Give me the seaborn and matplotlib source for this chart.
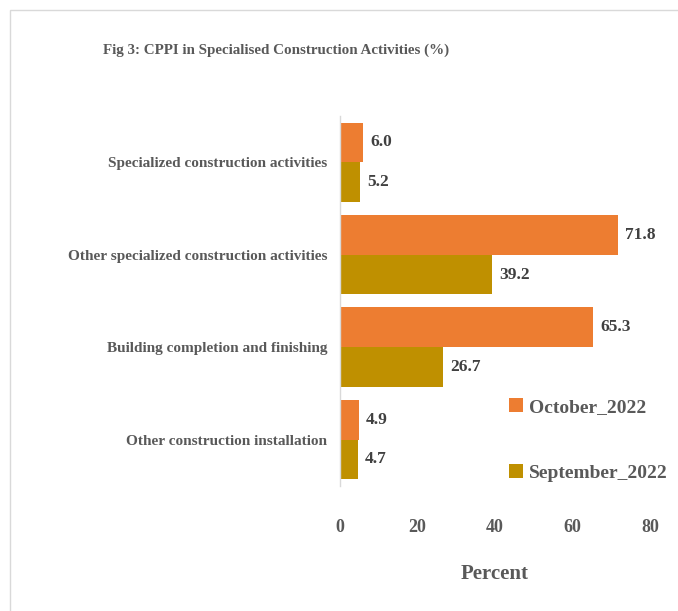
import pandas as pd
import matplotlib
matplotlib.use('Agg')
import matplotlib.pyplot as plt
from matplotlib.lines import Line2D
from matplotlib.patches import Rectangle
import seaborn as sns

# 데이터
categories = ['Specialized construction activities',
              'Other specialized construction activities',
              'Building completion and finishing',
              'Other construction installation']
october_2022 = [6.0, 71.8, 65.3, 4.9]
september_2022 = [5.2, 39.2, 26.7, 4.7]
series_names = ['October_2022', 'September_2022']
x_ticks = [0, 20, 40, 60, 80]

colors = {'October_2022': '#ED7D31', 'September_2022': '#BF9000'}
GRAY = '#595959'
DARK = '#404040'

df = pd.DataFrame({
    'Category': categories * 2,
    'Series': [series_names[0]] * len(categories) + [series_names[1]] * len(categories),
    'Value': october_2022 + september_2022,
})

sns.set_style('white')
plt.rcParams['font.family'] = ['Liberation Serif', 'DejaVu Serif']
plt.rcParams['font.weight'] = 'bold'

fig = plt.figure(figsize=(6.78, 6.11), dpi=100)
ax = fig.add_axes([0.501, 0.205, 0.458, 0.605])

sns.barplot(data=df, x='Value', y='Category', hue='Series', hue_order=series_names,
            order=categories, palette=colors, width=0.86, orient='h', saturation=1,
            linewidth=0, ax=ax, legend=False)

for cont in ax.containers:
    ax.bar_label(cont, fmt='%.1f', padding=5, fontsize=12.5, fontweight='bold', color=DARK)

ax.set_xlim(0, 80)
ax.set_xticks(x_ticks)
ax.set_ylim(3.5, -0.5)
ax.tick_params(axis='x', length=0, pad=24, labelsize=13, labelcolor=GRAY)
ax.tick_params(axis='y', length=0, pad=9, labelsize=11, labelcolor=GRAY)
for lab in ax.get_xticklabels() + ax.get_yticklabels():
    lab.set_fontweight('bold')
ax.set_xlabel('Percent', fontsize=15, fontweight='bold', color=GRAY, labelpad=20)
ax.set_ylabel('')

for s in ['top', 'right', 'bottom']:
    ax.spines[s].set_visible(False)
ax.spines['left'].set_color('#D9D9D9')
ax.spines['left'].set_linewidth(1)

handles = [Line2D([], [], marker='s', linestyle='', markersize=10,
                  markerfacecolor=colors[n], markeredgewidth=0) for n in series_names]
leg = fig.legend(handles, series_names, loc='upper left',
                 bbox_to_anchor=(508 / 678, 1 - 398 / 611), frameon=False,
                 fontsize=14, labelspacing=2.5, handlelength=0.8, handletextpad=0.3,
                 borderpad=0, borderaxespad=0)
for t in leg.get_texts():
    t.set_color(GRAY)
    t.set_fontweight('bold')

fig.text(103 / 678, 1 - 50 / 611, 'Fig 3: CPPI in Specialised Construction Activities (%)',
         fontsize=10.8, fontweight='bold', color=GRAY, va='center', ha='left')

# 바깥 테두리
fig.patches.append(Rectangle((10 / 678, -0.1), 1.2, 1 - 9.5 / 611 + 0.1,
                             transform=fig.transFigure, fill=False,
                             edgecolor='#D9D9D9', linewidth=1))

fig.savefig('out.png', dpi=100)
